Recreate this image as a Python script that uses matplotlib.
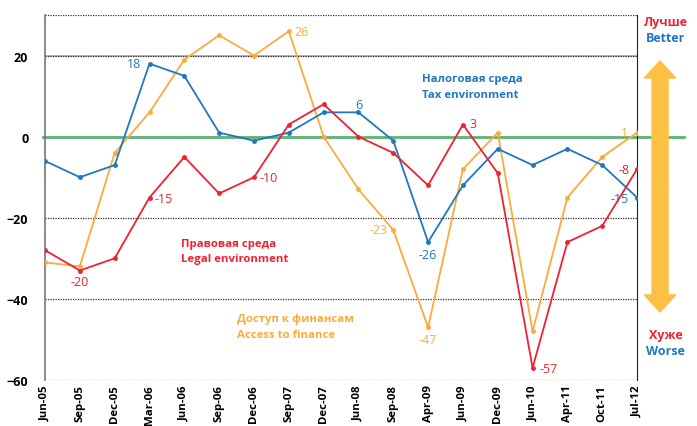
import numpy as np
import matplotlib.pyplot as plt
from matplotlib.patches import FancyArrow

plt.rcParams['font.family'] = ['Open Sans', 'DejaVu Sans']

dates = ['Jun-05', 'Sep-05', 'Dec-05', 'Mar-06', 'Jun-06', 'Sep-06', 'Dec-06', 'Sep-07', 'Dec-07',
         'Jun-08', 'Sep-08', 'Apr-09', 'Jun-09', 'Dec-09', 'Jun-10', 'Apr-11', 'Oct-11', 'Jul-12']
tax = [-6, -10, -7, 18, 15, 1, -1, 1, 6, 6, -1, -26, -12, -3, -7, -3, -7, -15]
legal = [-28, -33, -30, -15, -5, -14, -10, 3, 8, 0, -4, -12, 3, -9, -57, -26, -22, -8]
finance = [-31, -32, -4, 6, 19, 25, 20, 26, 0, -13, -23, -47, -8, 1, -48, -15, -5, 1]

blue = '#1f78c1'
red = '#ee2230'
orange = '#fbab3c'
green = '#5bb472'

fig = plt.figure(figsize=(6.97, 4.27), dpi=100)
ax = fig.add_axes([0.0646, 0.1077, 0.8494, 0.8548])
x = np.arange(len(dates))

ax.axhline(20, color='#aaaaaa', lw=1.2, zorder=1)
for yv in [20, -20, -40, -60, 30]:
    ax.axhline(yv, color='#333333', lw=0.9, ls=(0, (1, 1)), zorder=1)
ax.axhline(0, xmin=-0.003, xmax=1.08, color=green, lw=2, clip_on=False, zorder=2)

ax.plot(x, finance, '-o', color=orange, lw=1.3, ms=2.5, zorder=3)
ax.plot(x, tax, '-o', color=blue, lw=1.3, ms=2.5, zorder=4)
ax.plot(x, legal, '-o', color=red, lw=1.3, ms=2.5, zorder=5)

ax.set_xlim(0, len(dates) - 1)
ax.set_ylim(-60, 30)
ax.set_yticks([-60, -40, -20, 0, 20])
ax.set_xticks(x)
ax.set_xticklabels(dates, rotation=90, fontweight='bold', fontsize=8.2)
for lab in ax.get_yticklabels():
    lab.set_fontweight('bold')
    lab.set_fontsize(9)
ax.tick_params(length=0, pad=3)
ax.tick_params(axis='y', pad=12)
for s in ['top', 'bottom']:
    ax.spines[s].set_visible(False)
ax.spines['left'].set_color('#777777')
ax.spines['right'].set_color('#222222')
ax.spines['left'].set_linewidth(1.2)

fs = 9
# value labels
ax.text(3 - 0.25, 18, '18', color=blue, fontsize=fs, ha='right', va='center')
ax.text(7 + 0.15, 26, '26', color=orange, fontsize=fs, ha='left', va='center')
ax.text(9, 8, '6', color=blue, fontsize=fs, ha='center', va='center')
ax.text(12 + 0.2, 3.2, '3', color=red, fontsize=fs, ha='left', va='center')
ax.text(6 + 0.15, -10, '-10', color=red, fontsize=fs, ha='left', va='center')
ax.text(3 + 0.15, -15.2, '-15', color=red, fontsize=fs, ha='left', va='center')
ax.text(1, -35.7, '-20', color=red, fontsize=fs, ha='center', va='center')
ax.text(10 - 0.15, -23, '-23', color=orange, fontsize=fs, ha='right', va='center')
ax.text(11, -29, '-26', color=blue, fontsize=fs, ha='center', va='center')
ax.text(11, -50, '-47', color=orange, fontsize=fs, ha='center', va='center')
ax.text(14 + 0.2, -57.2, '-57', color=red, fontsize=fs, ha='left', va='center')
ax.text(17 - 0.2, -8, '-8', color=red, fontsize=fs, ha='right', va='center')
ax.text(17 - 0.25, -15.3, '-15', color=blue, fontsize=fs, ha='right', va='center')
ax.text(17 - 0.25, 1, '1', color=orange, fontsize=fs, ha='right', va='center')

# series names
fb = 8.2
ax.text(10.83, 12.4, 'Налоговая среда\nTax environment', color=blue, fontsize=fb,
        fontweight='bold', ha='left', va='center', linespacing=1.6)
ax.text(3.9, -28.2, 'Правовая среда\nLegal environment', color=red, fontsize=fb,
        fontweight='bold', ha='left', va='center', linespacing=1.6)
ax.text(5.52, -46.8, 'Доступ к финансам\nAccess to finance', color=orange, fontsize=fb,
        fontweight='bold', ha='left', va='center', linespacing=1.6)

# better / worse arrow
fig.text(0.955, 0.948, 'Лучше', color=red, fontsize=9, fontweight='bold', ha='center', va='center')
fig.text(0.955, 0.910, 'Better', color=blue, fontsize=9, fontweight='bold', ha='center', va='center')
fig.text(0.955, 0.215, 'Хуже', color=red, fontsize=9, fontweight='bold', ha='center', va='center')
fig.text(0.955, 0.177, 'Worse', color=blue, fontsize=9, fontweight='bold', ha='center', va='center')
fig.patches.append(FancyArrow(0.947, 0.55, 0, 0.305, width=0.023, head_width=0.045,
                              head_length=0.04, length_includes_head=True,
                              color='#fcc143', transform=fig.transFigure, figure=fig))
fig.patches.append(FancyArrow(0.947, 0.55, 0, -0.283, width=0.023, head_width=0.045,
                              head_length=0.04, length_includes_head=True,
                              color='#fcc143', transform=fig.transFigure, figure=fig))

fig.savefig('out.png', dpi=100)
